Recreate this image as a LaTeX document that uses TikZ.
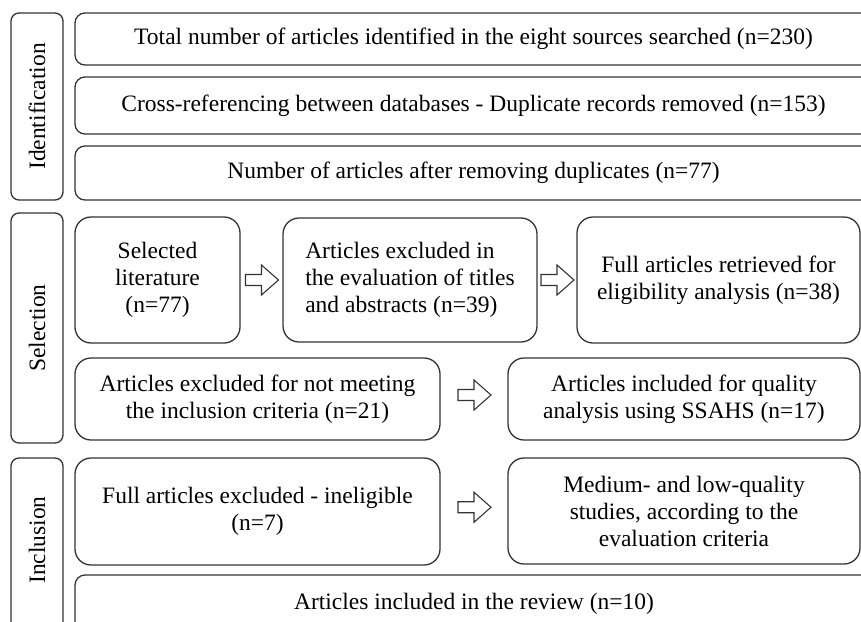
\documentclass[tikz,border=0pt]{standalone}
\usepackage{fontspec}
\setmainfont{Liberation Serif}
\usetikzlibrary{calc}
\begin{document}
\begin{tikzpicture}[x=1pt,y=-1pt,
  every node/.style={font=\fontsize{23.5}{27}\selectfont},
  frame/.style={draw=black!80, line width=1.3pt, fill=white, inner sep=0pt},
  phase/.style={frame, rounded corners=8pt},
  wide/.style={frame, rounded corners=10pt},
  card/.style={frame, rounded corners=16pt, align=center},
  hollow/.style={draw=black!80, line width=1.1pt, fill=white, line join=miter}]
\useasboundingbox (0,0) rectangle (861,621);
\clip (0,0) rectangle (861,621);

% box spanning (x1,y1)-(x2,y2), given as centre and size
\newcommand{\boxat}[7]{%
  \node[#1, minimum width=#4-#2, minimum height=#5-#3] (#6)
    at ({(#2+#4)/2},{(#3+#5)/2}) {#7};}

% phase labels on the left
\boxat{phase}{11}{13}{63}{200}{idf}{}
\node[rotate=90] at (idf.center) {Identification};
\boxat{phase}{11}{213}{63}{443}{sel}{}
\node[rotate=90] at (sel.center) {Selection};
\boxat{phase}{11}{458}{63}{640}{inc}{}
\node[rotate=90] at (37,540) {Inclusion};

% identification rows
\boxat{wide}{75}{13}{872}{65}{total}{Total number of articles identified in the eight sources searched (n=230)}
\boxat{wide}{75}{77}{872}{134}{dup}{Cross-referencing between databases - Duplicate records removed (n=153)}
\boxat{wide}{75}{146}{872}{200}{after}{Number of articles after removing duplicates (n=77)}

% selection
\boxat{card}{75}{217}{240}{343}{lit}{Selected\\literature\\(n=77)}
\boxat{card, align=left}{283}{218}{537}{342}{titles}{Articles excluded in\\the evaluation of titles\\and abstracts (n=39)}
\boxat{card}{577}{217}{860}{343}{full}{Full articles retrieved for\\eligibility analysis (n=38)}
\boxat{card}{75}{358}{440}{440}{crit}{Articles excluded for not meeting\\the inclusion criteria (n=21)}
\boxat{card}{508}{358}{860}{440}{qual}{Articles included for quality\\analysis using SSAHS (n=17)}

% inclusion
\boxat{card}{75}{458}{440}{565}{inel}{Full articles excluded - ineligible\\(n=7)}
\boxat{card}{508}{458}{860}{564}{low}{Medium- and low-quality\\studies, according to the\\evaluation criteria}
\boxat{wide}{75}{575}{872}{640}{rev}{}
\node[anchor=base] (revtext) at (474,609) {Articles included in the review (n=10)};

% hollow block arrows between neighbouring boxes
\coordinate (a1) at ($(lit.east)!0.5!(titles.west)$);
\coordinate (a2) at ($(titles.east)!0.5!(full.west)$);
\coordinate (a3) at ($(crit.east)!0.5!(qual.west)+(0,-4)$);
\coordinate (a4) at ($(inel.east)!0.5!(low.west)+(0,-4)$);
\foreach \c in {a1,a2,a3,a4}{
  \draw[hollow] (\c) ++(-16,-5.5) -- ++(16,0) -- ++(0,-9.5) -- ++(17,15)
    -- ++(-17,15) -- ++(0,-9.5) -- ++(-16,0) -- cycle;
}
\end{tikzpicture}
\end{document}
